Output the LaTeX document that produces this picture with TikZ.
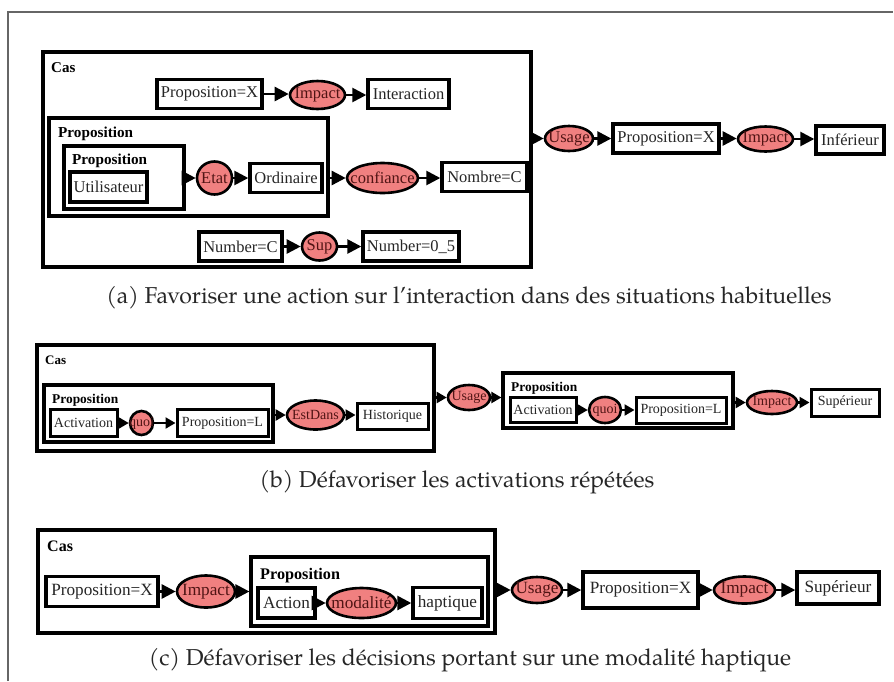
\documentclass[tikz,border=0pt]{standalone}
\usepackage{fontspec}
\setmainfont{Liberation Serif}
\newfontfamily\capfont{TeX Gyre Pagella}
\usetikzlibrary{shapes.geometric,arrows.meta}
\definecolor{salmonc}{RGB}{240,128,128}
\definecolor{ovaltext}{RGB}{80,20,20}
\newcommand\ztxt[1]{\makebox[0pt]{#1}}
\newcommand\fsA{\fontsize{16.5}{18}\selectfont}
\newcommand\fsB{\fontsize{14}{16}\selectfont}
\newcommand\fsC{\fontsize{17.2}{19}\selectfont}
\newcommand\fsCap{\fontsize{23}{26}\selectfont}
\tikzset{
 box/.style={draw, line width=3.4pt, fill=white, inner sep=0pt, text=black!85},
 oval/.style={ellipse, draw, line width=2.6pt, fill=salmonc, inner sep=0pt, text=ovaltext},
 frame/.style={draw, line width=3.2pt, fill=white, inner sep=0pt},
 lbl/.style={anchor=base west, inner sep=0pt},
 arr/.style={line width=2.6pt, -{Triangle[length=14pt,width=14pt]}},
 arrs/.style={line width=2.2pt, -{Triangle[length=10pt,width=11pt]}},
 captxt/.style={inner sep=0pt, text=black!85},
}
\begin{document}
\begin{tikzpicture}[x=1pt,y=-1pt]
\useasboundingbox (0,0) rectangle (894,681);
\coordinate (fbl) at (8,681);
\coordinate (ftl) at (8,12);
\coordinate (ftr) at (893,12);
\draw[black!60, line width=1.3pt] (fbl) -- (ftl) -- (ftr);

% ---------------- (a)
\begin{scope}[font=\fsA]
\node[frame, minimum width=488pt, minimum height=215pt] (casA) at (287,159.5) {};
\node[lbl, font=\fontsize{15}{17}\selectfont\bfseries] (casAl) at (51,72) {Cas};
\node[box, minimum width=105pt, minimum height=29pt] (pxA) at (209.5,94) {Proposition=X};
\node[oval, minimum width=55pt, minimum height=28pt] (imA) at (317.5,95) {\ztxt{Impact}};
\node[box, minimum width=81pt, minimum height=29pt] (inA) at (408.5,94) {Interaction};
\draw[arr] (pxA.east) -- (imA.west |- pxA.east);
\draw[arr] (imA.east) -- (inA.west |- imA.east);

\node[frame, minimum width=279pt, minimum height=98pt] (prA) at (188.5,167) {};
\node[lbl, font=\fontsize{15.2}{17}\selectfont\bfseries] (prAl) at (58,137) {Proposition};
\node[frame, minimum width=120pt, minimum height=63pt] (pr2A) at (124,177.5) {};
\node[lbl, font=\fontsize{15.2}{17}\selectfont\bfseries] (pr2Al) at (72,164) {Proposition};
\node[box, minimum width=77pt, minimum height=30pt] (utA) at (108.5,187) {Utilisateur};
\node[oval, minimum width=35pt, minimum height=33pt] (etA) at (214.5,178) {\ztxt{Etat}};
\node[box, minimum width=72pt, minimum height=29pt] (orA) at (286,178) {Ordinaire};
\node[oval, minimum width=71pt, minimum height=30pt] (coA) at (382.5,178) {\ztxt{confiance}};
\node[box, minimum width=85pt, minimum height=29pt] (noA) at (484.5,177) {Nombre=C};
\draw[arr] (pr2A.east |- etA.west) -- (etA.west);
\draw[arr] (etA.east) -- (orA.west |- etA.east);
\draw[arr] (prA.east |- coA.west) -- (coA.west);
\draw[arr] (coA.east) -- (noA.west |- coA.east);

\node[box, minimum width=83pt, minimum height=29pt] (nbA) at (240.5,246.5) {Number=C};
\node[oval, minimum width=35pt, minimum height=28pt] (suA) at (319.5,246.5) {\ztxt{Sup}};
\node[box, minimum width=96pt, minimum height=29pt] (n5A) at (411,246.5) {Number=0\_5};
\draw[arr] (nbA.east) -- (suA.west);
\draw[arr] (suA.east) -- (n5A.west);

\node[oval, minimum width=48pt, minimum height=25pt] (usA) at (569,138.5) {\ztxt{Usage}};
\node[box, minimum width=106pt, minimum height=29pt] (px2A) at (666,138.5) {Proposition=X};
\node[oval, minimum width=55pt, minimum height=25pt] (im2A) at (765.5,139) {\ztxt{Impact}};
\node[box, minimum width=68pt, minimum height=28pt] (ifA) at (850,140) {Inférieur};
\draw[arr] (casA.east |- usA.west) -- (usA.west);
\draw[arr] (usA.east) -- (px2A.west |- usA.east);
\draw[arr] (px2A.east) -- (im2A.west |- px2A.east);
\draw[arr] (im2A.east) -- (ifA.west |- im2A.east);
\end{scope}
\node[captxt, font=\capfont\fsCap] (capA) at (469,298) {(a) Favoriser une action sur l’interaction dans des situations habituelles};

% ---------------- (b)
\begin{scope}[font=\fsB]
\node[frame, minimum width=397pt, minimum height=106pt] (casB) at (235.5,398) {};
\node[lbl, font=\fontsize{13}{15}\selectfont\bfseries] (casBl) at (45,364) {Cas};
\node[frame, minimum width=229pt, minimum height=57pt] (prB) at (158.5,413.5) {};
\node[lbl, font=\fontsize{13.4}{15}\selectfont\bfseries] (prBl) at (52,403) {Proposition};
\node[box, line width=3pt, minimum width=67pt, minimum height=27pt] (acB) at (83.5,423) {Activation};
\node[oval, minimum width=23pt, minimum height=24pt] (quB) at (141.5,423) {\ztxt{quoi}};
\node[box, line width=3pt, minimum width=91pt, minimum height=27pt] (plB) at (222.5,423) {Proposition=L};
\draw[arrs] (acB.east) -- (quB.west);
\draw[arrs] (quB.east) -- (plB.west);
\node[oval, minimum width=57pt, minimum height=29pt] (edB) at (315.5,415) {\ztxt{EstDans}};
\node[box, line width=3pt, minimum width=71pt, minimum height=26pt] (hiB) at (392.5,416) {Historique};
\draw[arrs] (prB.east |- edB.west) -- (edB.west);
\draw[arrs] (edB.east) -- (hiB.west |- edB.east);

\node[oval, minimum width=42pt, minimum height=25pt] (usB) at (469,397.5) {\ztxt{Usage}};
\draw[arrs] (casB.east |- usB.west) -- (usB.west);
\node[frame, minimum width=230pt, minimum height=55pt] (pr2B) at (618,400.5) {};
\node[lbl, font=\fontsize{13.4}{15}\selectfont\bfseries] (pr2Bl) at (511,391) {Proposition};
\draw[arrs] (usB.east) -- (pr2B.west |- usB.east);
\node[box, line width=3pt, minimum width=66pt, minimum height=25pt] (ac2B) at (543,410) {Activation};
\node[oval, minimum width=32pt, minimum height=26pt] (qu2B) at (605,410) {\ztxt{quoi}};
\node[box, line width=3pt, minimum width=90pt, minimum height=26pt] (pl2B) at (681,410) {Proposition=L};
\draw[arrs] (ac2B.east) -- (qu2B.west);
\draw[arrs] (qu2B.east) -- (pl2B.west);
\node[oval, minimum width=50pt, minimum height=23pt] (imB) at (772,402.5) {\ztxt{Impact}};
\node[box, line width=3pt, minimum width=68pt, minimum height=27pt] (suB) at (845,402.5) {Supérieur};
\draw[arrs] (pr2B.east |- imB.west) -- (imB.west);
\draw[arrs] (imB.east) -- (suB.west);
\end{scope}
\node[captxt, font=\capfont\fsCap] (capB) at (457,482) {(b) Défavoriser les activations répétées};

% ---------------- (c)
\begin{scope}[font=\fsC]
\node[frame, minimum width=457pt, minimum height=103pt] (casC) at (266.5,581.5) {};
\node[lbl, font=\fontsize{16}{18}\selectfont\bfseries] (casCl) at (47,551) {Cas};
\node[box, minimum width=112pt, minimum height=30pt] (pxC) at (102,591.5) {Proposition=X};
\node[oval, minimum width=58pt, minimum height=32pt] (imC) at (206,591.5) {\ztxt{Impact}};
\draw[arr] (pxC.east) -- (imC.west);
\node[frame, minimum width=237pt, minimum height=69pt] (prC) at (369.5,591.5) {};
\node[lbl, font=\fontsize{16.2}{18}\selectfont\bfseries] (prCl) at (260,579) {Proposition};
\draw[arr] (imC.east) -- (prC.west |- imC.east);
\node[box, minimum width=57pt, minimum height=30pt] (acC) at (286.5,603) {Action};
\node[oval, minimum width=69pt, minimum height=30pt] (moC) at (361.5,603) {\ztxt{modalité}};
\node[box, minimum width=69pt, minimum height=31pt] (haC) at (447.5,603) {haptique};
\draw[arr] (acC.east) -- (moC.west);
\draw[arr] (moC.east) -- (haC.west);

\node[oval, minimum width=50pt, minimum height=26pt] (usC) at (537,590) {\ztxt{Usage}};
\draw[arr] (casC.east |- usC.west) -- (usC.west);
\node[box, minimum width=115pt, minimum height=36pt] (px2C) at (640.5,590) {Proposition=X};
\node[oval, minimum width=61pt, minimum height=27pt] (im2C) at (744.5,590) {\ztxt{Impact}};
\node[box, minimum width=82pt, minimum height=32pt] (spC) at (838,588) {Supérieur};
\draw[arr] (usC.east) -- (px2C.west |- usC.east);
\draw[arr] (px2C.east) -- (im2C.west |- px2C.east);
\draw[arr] (im2C.east) -- (spC.west |- im2C.east);
\end{scope}
\node[captxt, font=\capfont\fsCap] (capC) at (470,660) {(c) Défavoriser les décisions portant sur une modalité haptique};
\end{tikzpicture}
\end{document}
